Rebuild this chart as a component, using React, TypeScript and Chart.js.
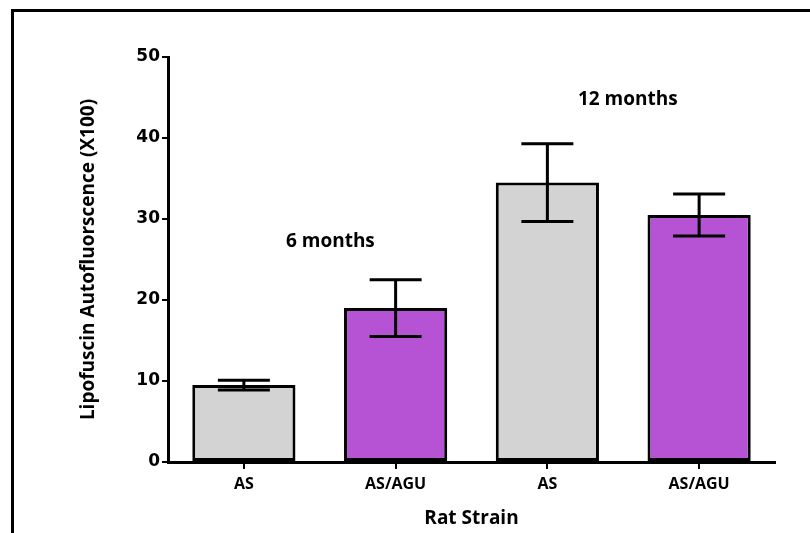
import React, { useEffect, useRef } from "react";
import { Chart, registerables } from "chart.js";

Chart.register(...registerables);

const categories = ["AS", "AS/AGU", "AS", "AS/AGU"];
const meanValues = [9.5, 19.0, 34.5, 30.5];
const errorValues = [0.6, 3.5, 4.8, 2.6];
const barColors = ["#d3d3d3", "#b553d4", "#d3d3d3", "#b553d4"];
const yTicks = [0, 10, 20, 30, 40, 50];
const annotationTexts = ["6 months", "12 months"];
const annotationCats = [0.57, 2.53];
const annotationValues = [27.2, 44.7];

const errorBarPlugin = {
  id: "errorBars",
  afterDatasetsDraw(chart: any) {
    const { ctx } = chart;
    const x = chart.scales.x;
    const y = chart.scales.y;
    ctx.save();
    ctx.strokeStyle = "#000";
    ctx.lineWidth = 3;
    meanValues.forEach((v, i) => {
      const cx = x.getPixelForValue(i);
      const top = y.getPixelForValue(v + errorValues[i]);
      const bot = y.getPixelForValue(v - errorValues[i]);
      const half = 26;
      ctx.beginPath();
      ctx.moveTo(cx, top);
      ctx.lineTo(cx, bot);
      ctx.moveTo(cx - half, top);
      ctx.lineTo(cx + half, top);
      ctx.moveTo(cx - half, bot);
      ctx.lineTo(cx + half, bot);
      ctx.stroke();
    });
    ctx.fillStyle = "#000";
    ctx.font = "bold 19px 'Open Sans'";
    ctx.textAlign = "center";
    ctx.textBaseline = "middle";
    annotationTexts.forEach((t, i) => {
      const c = annotationCats[i];
      const i0 = Math.floor(c);
      const p0 = x.getPixelForValue(i0);
      const p1 = x.getPixelForValue(i0 + 1);
      const px = p0 + (p1 - p0) * (c - i0);
      const py = y.getPixelForValue(annotationValues[i]);
      ctx.fillText(t, px, py);
    });
    ctx.restore();
  },
};

export default function App() {
  const canvasRef = useRef<HTMLCanvasElement | null>(null);
  useEffect(() => {
    const chart = new Chart(canvasRef.current as HTMLCanvasElement, {
      type: "bar",
      data: {
        labels: categories,
        datasets: [
          {
            data: meanValues,
            backgroundColor: barColors,
            borderColor: "#000",
            borderWidth: 3,
            borderSkipped: false,
            barPercentage: 0.68,
            categoryPercentage: 1,
          },
        ],
      },
      options: {
        responsive: false,
        animation: false,
        layout: { padding: { top: 57, right: 35, left: 0, bottom: 0 } },
        plugins: { legend: { display: false }, tooltip: { enabled: false } },
        scales: {
          x: {
            offset: true,
            grid: {
              display: true,
              offset: false,
              drawOnChartArea: false,
              drawTicks: true,
              tickLength: 7,
              color: "#000",
              lineWidth: 2,
            },
            border: { display: true, color: "#000", width: 3 },
            ticks: {
              color: "#000",
              font: { family: "'Open Sans'", weight: "bold", size: 16 },
              padding: 6,
            },
            title: {
              display: true,
              text: "Rat Strain",
              color: "#000",
              font: { family: "'Open Sans'", weight: "bold", size: 19 },
              padding: { top: 0, bottom: 3 },
            },
            afterFit: (s: any) => {
              s.height = 71;
            },
          },
          y: {
            min: 0,
            max: 50,
            afterBuildTicks: (s: any) => {
              s.ticks = yTicks.map((v) => ({ value: v }));
            },
            grid: {
              display: true,
              drawOnChartArea: false,
              drawTicks: true,
              tickLength: 6,
              color: "#000",
              lineWidth: 2,
            },
            border: { display: true, color: "#000", width: 3 },
            ticks: {
              color: "#000",
              font: { family: "'DejaVu Sans'", weight: "bold", size: 17 },
              padding: 2,
            },
            title: {
              display: true,
              text: "Lipofuscin Autofluorscence (X100)",
              color: "#000",
              font: { family: "'Open Sans'", weight: "bold", size: 19 },
              padding: { top: 77, bottom: 0 },
            },
            afterFit: (s: any) => {
              s.width = 168;
            },
          },
        },
      },
      plugins: [errorBarPlugin],
    } as any);
    return () => chart.destroy();
  }, []);
  return (
    <div
      style={{
        position: "fixed",
        left: 0,
        top: 0,
        width: 810,
        height: 533,
        background: "#fff",
        overflow: "hidden",
      }}
    >
      <canvas ref={canvasRef} width={810} height={533} style={{ display: "block" }} />
      <div
        style={{
          position: "absolute",
          left: 11,
          top: 9,
          width: 900,
          height: 600,
          borderLeft: "3px solid #000",
          borderTop: "3px solid #000",
          pointerEvents: "none",
        }}
      />
    </div>
  );
}
